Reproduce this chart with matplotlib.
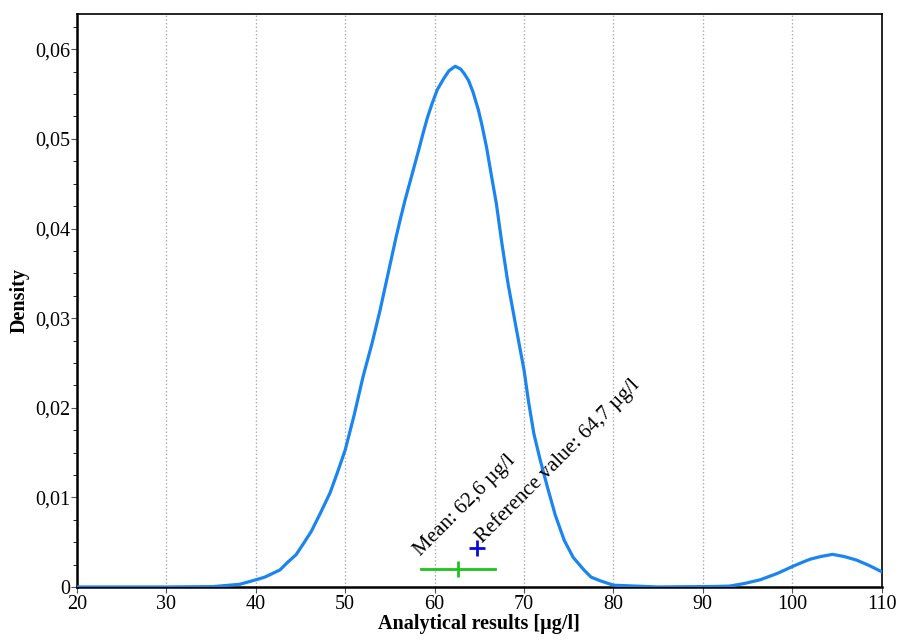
import matplotlib
matplotlib.use("Agg")
import matplotlib.pyplot as plt
from matplotlib.ticker import MultipleLocator, FuncFormatter

# curva de densidad
x_vals = [20, 30, 35.2, 38.2, 40, 41, 42.7, 43.5, 44.5, 45.3, 46.2, 47.2, 48.3,
          49.1, 50, 51, 52, 53, 53.9, 54.8, 55.7, 56.2, 56.7, 57.6, 58.2, 58.7,
          59.2, 59.7, 60.3, 61, 61.6, 62.3, 62.9, 63.3, 63.8, 64.3, 64.9, 65.3,
          65.8, 66.3, 66.9, 67.5, 68.2, 69.1, 70, 70.5, 71.1, 71.8, 72.6, 73.5,
          74.5, 75.5, 76.7, 77.5, 78.5, 80, 85, 89.7, 91.5, 93, 94.7, 96.4, 98.3,
          100, 101, 102, 103.2, 104.5, 105.8, 107.2, 108.6, 110]
dens = [0, 0, 0.00004, 0.0003, 0.0008, 0.0011, 0.0019, 0.0027, 0.0036, 0.0048,
        0.0062, 0.0082, 0.0105, 0.0127, 0.0153, 0.0192, 0.0235, 0.0272, 0.0309,
        0.0350, 0.0391, 0.0412, 0.0432, 0.0465, 0.0487, 0.0506, 0.0524, 0.0539,
        0.0555, 0.0567, 0.0576, 0.0581, 0.0578, 0.0573, 0.0565, 0.0552, 0.0532,
        0.0515, 0.0491, 0.0462, 0.0428, 0.0385, 0.0339, 0.0290, 0.0242, 0.0207,
        0.0171, 0.0142, 0.0112, 0.0080, 0.0052, 0.0033, 0.0019, 0.0011, 0.0007,
        0.0002, 0, 0.00004, 0.00006, 0.0001, 0.0004, 0.0008, 0.0015, 0.00227,
        0.0027, 0.0031, 0.0034, 0.00364, 0.0034, 0.0030, 0.0024, 0.0017]

mean_val = 62.6
mean_lo, mean_hi = 58.45, 66.75
mean_y = 0.002
ref_val = 64.7
ref_y = 0.0043

plt.rcParams['font.family'] = ['Liberation Serif', 'DejaVu Serif']

fig = plt.figure(figsize=(9, 6.42), dpi=100)
ax = fig.add_axes([0.0856, 0.0857, 0.894, 0.892])

ax.plot(x_vals, dens, color="#1a85f0", lw=2.3, zorder=3,
        solid_joinstyle="round", solid_capstyle="round")

# media con intervalo
ax.plot([mean_lo, mean_hi], [mean_y, mean_y], color="#1ec31e", lw=2, zorder=4)
ax.plot([mean_val], [mean_y], marker="|", ms=12, mew=2, color="#1ec31e", zorder=4)
# valor de referencia
ax.plot([ref_val], [ref_y], marker="+", ms=12, mew=2, color="#0a0adc", zorder=4)

ax.text(58.4, 0.0034, "Mean: 62,6 µg/l", rotation=45, rotation_mode="anchor",
        ha="left", va="baseline", fontsize=15)
ax.text(65.35, 0.0048, "Reference value: 64,7 µg/l", rotation=45,
        rotation_mode="anchor", ha="left", va="baseline", fontsize=15)

ax.set_xlim(20, 110)
ax.set_ylim(0, 0.0639)
ax.xaxis.set_major_locator(MultipleLocator(10))
ax.yaxis.set_major_locator(MultipleLocator(0.01))
ax.yaxis.set_minor_locator(MultipleLocator(0.0025))
ax.yaxis.set_major_formatter(FuncFormatter(lambda v, p: "0" if v == 0 else f"{v:.2f}".replace(".", ",")))

ax.grid(axis="x", color="#aaaaaa", ls=":", lw=1)
ax.tick_params(axis="both", labelsize=14.5, direction="out", color="#555555")
ax.tick_params(axis="y", which="major", length=4, pad=1)
ax.tick_params(axis="y", which="minor", length=3)
ax.tick_params(axis="x", length=4, pad=2)

for s in ["left", "bottom"]:
    ax.spines[s].set_linewidth(1.8)
for s in ["top", "right"]:
    ax.spines[s].set_linewidth(1.2)

ax.set_xlabel("Analytical results [µg/l]", fontsize=14.5, fontweight="bold", labelpad=0)
ax.set_ylabel("Density", fontsize=14.5, fontweight="bold", labelpad=4)

fig.savefig("out.png", dpi=100)
